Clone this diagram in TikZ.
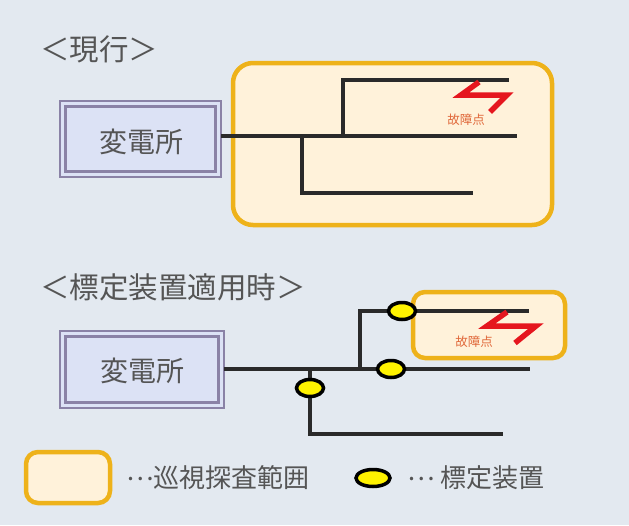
\documentclass[tikz,border=0pt]{standalone}
\usepackage{fontspec}
\newfontfamily\jp{Noto Sans CJK JP}
\usetikzlibrary{shapes.geometric}
\definecolor{bg}{HTML}{E3E9F0}
\definecolor{gold}{HTML}{EEB21A}
\definecolor{cream}{HTML}{FFF2DA}
\definecolor{boxfill}{HTML}{DCE2F5}
\definecolor{boxline}{HTML}{8A82A6}
\definecolor{wire}{HTML}{2A2A2A}
\definecolor{faultred}{HTML}{E5161E}
\definecolor{faulttxt}{HTML}{E0683A}
\definecolor{txt}{HTML}{555555}
\newcommand{\middots}{\raisebox{0.3em}{…}}
\tikzset{
  area/.style={draw=gold, fill=cream, line width=4.5pt},
  wireline/.style={draw=wire, line width=3.2pt, line join=miter},
  locator/.style={ellipse, draw=black, fill=yellow, line width=3.5pt, minimum width=27pt, minimum height=17pt, inner sep=0pt},
  fault/.style={draw=faultred, line width=5.5pt, line join=miter, line cap=butt},
  faultlabel/.style={text=faulttxt, font=\jp\fontsize{12.5}{12.5}\selectfont, inner sep=0pt},
  title/.style={text=txt, font=\jp\fontsize{29.5}{29.5}\selectfont, inner sep=0pt, anchor=west},
  legendtext/.style={text=txt, font=\jp\fontsize{26}{26}\selectfont, inner sep=0pt, anchor=west},
  stationtext/.style={text=txt, font=\jp\fontsize{28}{28}\selectfont, inner sep=0pt}
}
\begin{document}
\begin{tikzpicture}[x=1pt,y=-1pt]
\useasboundingbox (0,0) rectangle (629,525);
\fill[bg] (0,0) rectangle (629,525);

% ---------- top section ----------
\node[title] (t1) at (40,49) {＜現行＞};
\draw[area, rounded corners=20pt] (233,63) rectangle (552,225);
\draw[boxline, line width=2pt, fill=boxfill] (60,101) rectangle (221,177);
\draw[boxline, line width=2.5pt] (65.5,106.5) rectangle (215.5,171.5);
\node[stationtext] (s1) at (141,142) {変電所};
\coordinate (a0) at (221,136);
\coordinate (a1) at (517,136);
\coordinate (b0) at (343,136);
\coordinate (b1) at (343,80);
\coordinate (b2) at (509,80);
\coordinate (c0) at (302,136);
\coordinate (c1) at (302,193);
\coordinate (c2) at (473,193);
\draw[wireline] (a0) -- (a1);
\draw[wireline] (b0) -- (b1) -- (b2);
\draw[wireline] (c0) -- (c1) -- (c2);
\coordinate (f1a) at (479,82);
\coordinate (f1b) at (461,95);
\coordinate (f1c) at (507,95);
\coordinate (f1d) at (490,112);
\draw[fault] (f1a) -- (f1b) -- (f1c) -- (f1d);
\node[faultlabel] (fl1) at (466,120) {故障点};

% ---------- bottom section ----------
\node[title] (t2) at (40,287) {＜標定装置適用時＞};
\draw[area, rounded corners=12pt] (413,292) rectangle (565,358);
\draw[boxline, line width=2pt, fill=boxfill] (60,331) rectangle (224,408);
\draw[boxline, line width=2.5pt] (65.5,336.5) rectangle (218.5,402.5);
\node[stationtext] (s2) at (142,371) {変電所};
\coordinate (d0) at (224,369);
\coordinate (d1) at (530,369);
\coordinate (e0) at (360,369);
\coordinate (e1) at (360,311);
\coordinate (e2) at (529,311);
\coordinate (g0) at (310,369);
\coordinate (g1) at (310,434);
\coordinate (g2) at (503,434);
\draw[wireline] (d0) -- (d1);
\draw[wireline] (e0) -- (e1) -- (e2);
\draw[wireline] (g0) -- (g1) -- (g2);
\node[locator] (l1) at (402,311) {};
\node[locator] (l2) at (391,369) {};
\node[locator] (l3) at (310,388) {};
\coordinate (f2a) at (507,312);
\coordinate (f2b) at (487,326);
\coordinate (f2c) at (536,326);
\coordinate (f2d) at (515,343);
\draw[fault] (f2a) -- (f2b) -- (f2c) -- (f2d);
\node[faultlabel] (fl2) at (474,342) {故障点};

% ---------- legend ----------
\draw[area, rounded corners=12pt] (26,452) rectangle (110,503);
\node[legendtext] (lg1) at (126,478) {\middots 巡視探査範囲};
\node[locator, minimum width=34pt] (lg2) at (373,478) {};
\node[legendtext] (lg3) at (407,478) {\middots\ 標定装置};
\end{tikzpicture}
\end{document}
